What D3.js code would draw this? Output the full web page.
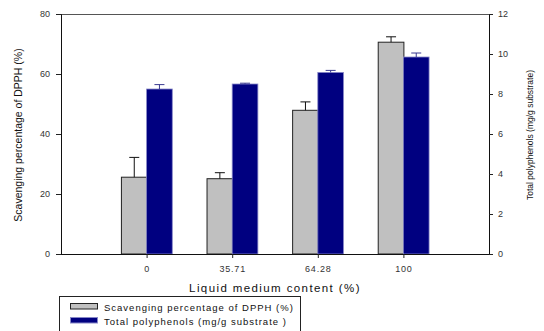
<!DOCTYPE html>
<html><head><meta charset="utf-8">
<script src="https://cdn.jsdelivr.net/npm/d3@7"></script>
<style>body{margin:0;background:#fff}svg{display:block;font-family:"Liberation Sans",Arial,sans-serif}</style>
</head><body><svg id="c" width="544" height="331"></svg>
<script>
const categories = ["0","35.71","64.28","100"];
const dpph = [25.6, 25.1, 47.9, 70.6];
const dpphErr = [6.6, 2.0, 2.8, 1.8];
const poly = [8.25, 8.50, 9.08, 9.85];
const polyErr = [0.22, 0.04, 0.10, 0.20];
const leftTicks = [0,20,40,60,80];
const rightTicks = [0,2,4,6,8,10,12];
const seriesNames = ["Scavenging percentage of DPPH (%)","Total polyphenols (mg/g substrate )"];

const svg = d3.select("#c");
const L=61, R=489, T=14, B=254;
const x = d3.scalePoint().domain(categories).range([L,R]).padding(1);
const yL = d3.scaleLinear().domain([0,80]).range([B,T]);
const yR = d3.scaleLinear().domain([0,12]).range([B,T]);
const bw = x.step()*0.3;

// frame top
svg.append("line").attr("x1",L).attr("x2",R).attr("y1",T+0.5).attr("y2",T+0.5).attr("stroke","#555").attr("stroke-width",1);

// bars
const g = svg.append("g");
categories.forEach((c,i)=>{
  const cx = x(c);
  g.append("rect").attr("x",cx-bw+0.5).attr("y",yL(dpph[i])).attr("width",bw).attr("height",B-yL(dpph[i]))
    .attr("fill","#c0c0c0").attr("stroke","#222").attr("stroke-width",1);
  g.append("rect").attr("x",cx).attr("y",yR(poly[i])).attr("width",bw).attr("height",B-yR(poly[i]))
    .attr("fill","#000080").attr("stroke","#8888c8").attr("stroke-width",0.8);
  const gx = cx-bw/2+0.5, nx = cx+bw/2;
  const ge = yL(dpph[i]+dpphErr[i]);
  g.append("line").attr("x1",gx).attr("x2",gx).attr("y1",yL(dpph[i])).attr("y2",ge).attr("stroke","#111");
  g.append("line").attr("x1",gx-5).attr("x2",gx+5).attr("y1",ge).attr("y2",ge).attr("stroke","#111");
  const ne = yR(poly[i]+polyErr[i]);
  g.append("line").attr("x1",nx).attr("x2",nx).attr("y1",yR(poly[i])).attr("y2",ne).attr("stroke","#3a3a90");
  g.append("line").attr("x1",nx-5).attr("x2",nx+5).attr("y1",ne).attr("y2",ne).attr("stroke","#3a3a90");
});

// axes
const axL = svg.append("g").attr("transform",`translate(${L},0)`).call(d3.axisLeft(yL).tickValues(leftTicks).tickSize(5).tickPadding(6));
const axR = svg.append("g").attr("transform",`translate(${R},0)`).call(d3.axisRight(yR).tickValues(rightTicks).tickSize(4).tickPadding(5));
const axB = svg.append("g").attr("transform",`translate(0,${B})`).call(d3.axisBottom(x).tickSize(4).tickPadding(8));
axB.select(".domain").attr("d",`M${L},0.5H${R}`);
[axL,axR,axB].forEach(a=>{
  a.selectAll("text").attr("font-size",9).attr("fill","#333").attr("font-family","Liberation Sans, Arial, sans-serif");
  a.selectAll("line").attr("stroke","#222");
  a.select(".domain").attr("stroke","#111");
});
axB.selectAll("text").attr("letter-spacing","0.8px");

// axis titles
svg.append("text").attr("x",275).attr("y",292).attr("text-anchor","middle").attr("font-size",11.5)
  .attr("letter-spacing","1.4px").attr("fill","#111").text("Liquid medium content (%)");
svg.append("text").attr("transform","translate(22,135) rotate(-90)").attr("text-anchor","middle")
  .attr("font-size",10.5).attr("fill","#111").text("Scavenging percentage of DPPH (%)");
svg.append("text").attr("transform","translate(533,135) rotate(-90)").attr("text-anchor","middle")
  .attr("font-size",8.5).attr("fill","#111").text("Total polyphenols (mg/g substrate)");

// legend
const lg = svg.append("g");
lg.append("rect").attr("x",59.5).attr("y",296.5).attr("width",241).attr("height",45).attr("fill","#fff").attr("stroke","#222");
const sw = [{f:"#c0c0c0",s:"#222"},{f:"#000080",s:"#8888c8"}];
seriesNames.forEach((n,i)=>{
  const yy = 303.5 + i*14;
  lg.append("rect").attr("x",70.5).attr("y",yy).attr("width",27).attr("height",5.5).attr("fill",sw[i].f).attr("stroke",sw[i].s);
  lg.append("text").attr("x",104).attr("y",yy+7.5).attr("font-size",9.5).attr("letter-spacing","1px").attr("fill","#111").text(n);
});
</script></body></html>
